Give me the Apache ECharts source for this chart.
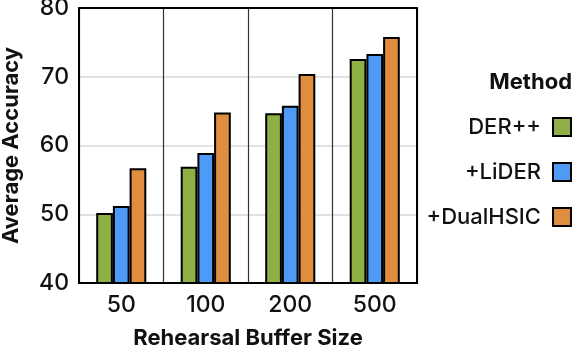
<!DOCTYPE html>
<html>
<head>
<meta charset="utf-8">
<script src="https://cdn.jsdelivr.net/npm/echarts@6/dist/echarts.min.js"></script>
<style>
  html, body { margin: 0; padding: 0; background: #fff; }
  #chart { width: 580px; height: 346px; }
</style>
</head>
<body>
<div id="chart"></div>
<script>
const bufferSizes = ['50', '100', '200', '500']
const methodNames = ['DER++', '+LiDER', '+DualHSIC']
const derpp = [50.2, 56.9, 64.7, 72.6]
const lider = [51.2, 58.9, 65.8, 73.3]
const dualhsic = [56.7, 64.8, 70.4, 75.8]
const colors = ['#8eb044', '#4e9bf7', '#e08d40']

const font = 'Inter, "Noto Sans", sans-serif'
const chart = echarts.init(document.getElementById('chart'), null, { renderer: 'canvas' })

const seriesData = [derpp, lider, dualhsic]
const frameLine = { show: true, lineStyle: { color: '#000', width: 2 } }

chart.setOption({
  animation: false,
  textStyle: { fontFamily: font },
  title: {
    text: 'Method',
    right: 3, top: 66,
    textStyle: { fontFamily: font, fontSize: 22, fontWeight: 'bold', color: '#111' }
  },
  legend: {
    orient: 'vertical',
    align: 'right',
    right: 3, top: 111,
    itemWidth: 18, itemHeight: 18, itemGap: 23,
    icon: 'rect',
    itemStyle: { borderColor: '#000', borderWidth: 2 },
    textStyle: { fontFamily: font, fontSize: 22, fontWeight: 500, color: '#111', padding: [0, 7, 0, 0] },
    data: methodNames
  },
  grid: {
    left: 79, right: 163, top: 8, bottom: 63,
    outerBoundsMode: 'none'
  },
  xAxis: [{
    type: 'category',
    data: bufferSizes,
    name: 'Rehearsal Buffer Size',
    nameLocation: 'middle',
    nameGap: 44,
    nameTextStyle: { fontFamily: font, fontSize: 22, fontWeight: 'bold', color: '#111' },
    axisLine: frameLine,
    axisTick: { show: false },
    axisLabel: { fontFamily: font, fontSize: 23, fontWeight: 500, color: '#111', margin: 11 },
    splitLine: { show: true, lineStyle: { color: '#333', width: 1.2 } }
  }, {
    type: 'category',
    data: bufferSizes,
    position: 'top',
    axisLine: frameLine,
    axisTick: { show: false },
    axisLabel: { show: false },
    splitLine: { show: false }
  }],
  yAxis: [{
    type: 'value',
    min: 40, max: 80, interval: 10,
    name: 'Average Accuracy',
    nameLocation: 'middle',
    nameGap: 57,
    nameTextStyle: { fontFamily: font, fontSize: 22, fontWeight: 'bold', color: '#111' },
    axisLine: frameLine,
    axisTick: { show: false },
    axisLabel: { fontFamily: font, fontSize: 23, fontWeight: 500, color: '#111', margin: 10 },
    splitLine: { show: true, lineStyle: { color: '#d9d9d9', width: 1.5 } }
  }, {
    type: 'value',
    min: 40, max: 80, interval: 10,
    position: 'right',
    axisLine: frameLine,
    axisTick: { show: false },
    axisLabel: { show: false },
    splitLine: { show: false }
  }],
  series: methodNames.map((name, i) => ({
    name: name,
    type: 'bar',
    data: seriesData[i],
    barWidth: 16.7,
    barGap: '0%',
    itemStyle: { color: colors[i], borderColor: '#000', borderWidth: 2 }
  }))
})
</script>
</body>
</html>
